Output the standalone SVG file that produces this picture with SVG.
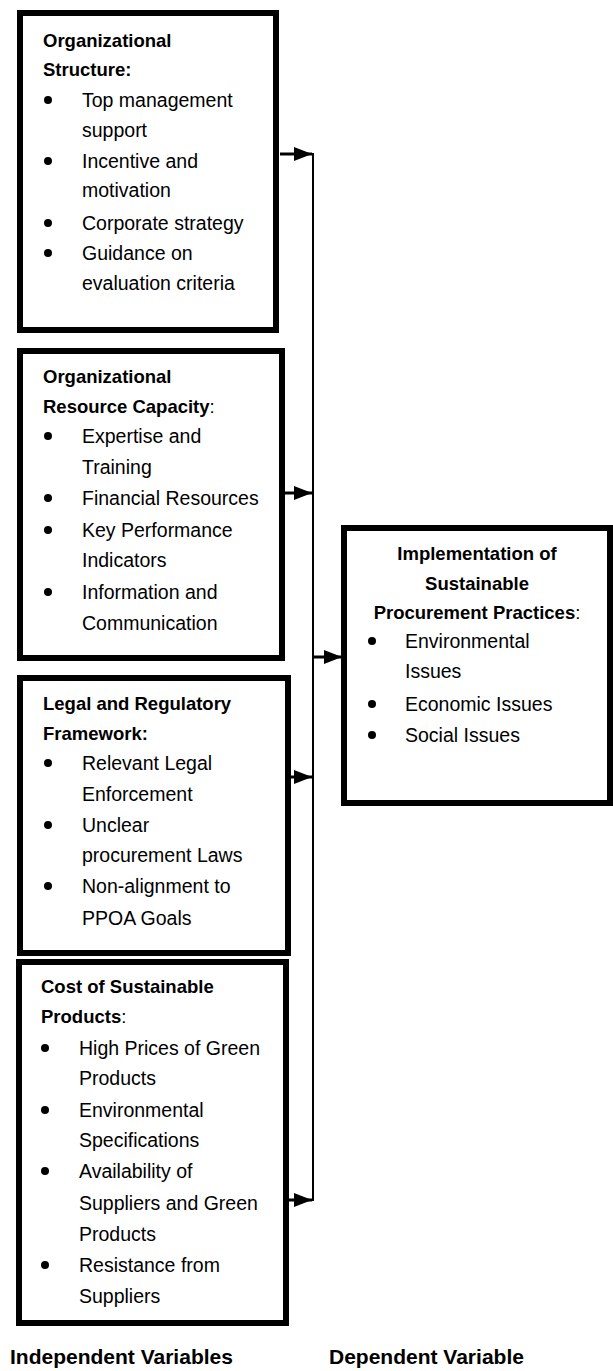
<svg xmlns="http://www.w3.org/2000/svg" width="613" height="1371" viewBox="0 0 613 1371">
  <style>
    text { font-family: "Liberation Sans", Arial, sans-serif; fill: #000; }
    .h { font-size: 18.5px; font-weight: bold; }
    .t { font-size: 19.5px; }
    .r { font-weight: normal; }
    .cap { font-size: 21px; font-weight: bold; }
    .box { fill: #fff; stroke: #000; stroke-width: 6; }
    .bul { fill: #000; }
    .wire { fill: none; stroke: #000; stroke-width: 3; }
    .bus { fill: none; stroke: #000; stroke-width: 2; }
  </style>
  <defs>
    <marker id="head" markerUnits="userSpaceOnUse" markerWidth="18" markerHeight="14" refX="18" refY="7" orient="auto">
      <path d="M0,0 L18,7 L0,14 Z" fill="#000"/>
    </marker>
  </defs>

  <!-- Independent variable: organizational structure -->
  <g id="org-structure">
    <rect class="box" x="20" y="13" width="256" height="317"/>
    <text class="h" x="43" y="47">Organizational</text>
    <text class="h" x="43" y="76">Structure:</text>
    <circle class="bul" cx="48" cy="100" r="4"/>
    <text class="t" x="82" y="107">Top management</text>
    <text class="t" x="82" y="137">support</text>
    <circle class="bul" cx="48" cy="161" r="4"/>
    <text class="t" x="82" y="168">Incentive and</text>
    <text class="t" x="82" y="197">motivation</text>
    <circle class="bul" cx="48" cy="223" r="4"/>
    <text class="t" x="82" y="230">Corporate strategy</text>
    <circle class="bul" cx="48" cy="253" r="4"/>
    <text class="t" x="82" y="260">Guidance on</text>
    <text class="t" x="82" y="290">evaluation criteria</text>
  </g>

  <!-- Independent variable: organizational resource capacity -->
  <g id="resource-capacity">
    <rect class="box" x="20" y="351" width="262" height="307"/>
    <text class="h" x="43" y="383">Organizational</text>
    <text class="h" x="43" y="413">Resource Capacity<tspan class="r">:</tspan></text>
    <circle class="bul" cx="48" cy="436" r="4"/>
    <text class="t" x="82" y="443">Expertise and</text>
    <text class="t" x="82" y="474">Training</text>
    <circle class="bul" cx="48" cy="498" r="4"/>
    <text class="t" x="82" y="505">Financial Resources</text>
    <circle class="bul" cx="48" cy="530" r="4"/>
    <text class="t" x="82" y="537">Key Performance</text>
    <text class="t" x="82" y="567">Indicators</text>
    <circle class="bul" cx="48" cy="592" r="4"/>
    <text class="t" x="82" y="599">Information and</text>
    <text class="t" x="82" y="630">Communication</text>
  </g>

  <!-- Independent variable: legal and regulatory framework -->
  <g id="legal-framework">
    <rect class="box" x="20" y="678" width="268" height="275"/>
    <text class="h" x="43" y="710">Legal and Regulatory</text>
    <text class="h" x="43" y="740">Framework:</text>
    <circle class="bul" cx="48" cy="763" r="4"/>
    <text class="t" x="82" y="770">Relevant Legal</text>
    <text class="t" x="82" y="801">Enforcement</text>
    <circle class="bul" cx="48" cy="825" r="4"/>
    <text class="t" x="82" y="832">Unclear</text>
    <text class="t" x="82" y="862">procurement Laws</text>
    <circle class="bul" cx="48" cy="886" r="4"/>
    <text class="t" x="82" y="893">Non-alignment to</text>
    <text class="t" x="82" y="925">PPOA Goals</text>
  </g>

  <!-- Independent variable: cost of sustainable products -->
  <g id="cost-products">
    <rect class="box" x="19" y="962" width="267" height="361"/>
    <text class="h" x="41" y="993">Cost of Sustainable</text>
    <text class="h" x="41" y="1023">Products<tspan class="r">:</tspan></text>
    <circle class="bul" cx="45" cy="1048" r="4"/>
    <text class="t" x="79" y="1055">High Prices of Green</text>
    <text class="t" x="79" y="1085">Products</text>
    <circle class="bul" cx="45" cy="1110" r="4"/>
    <text class="t" x="79" y="1117">Environmental</text>
    <text class="t" x="79" y="1147">Specifications</text>
    <circle class="bul" cx="45" cy="1171" r="4"/>
    <text class="t" x="79" y="1178">Availability of</text>
    <text class="t" x="79" y="1210">Suppliers and Green</text>
    <text class="t" x="79" y="1241">Products</text>
    <circle class="bul" cx="45" cy="1265" r="4"/>
    <text class="t" x="79" y="1272">Resistance from</text>
    <text class="t" x="79" y="1303">Suppliers</text>
  </g>

  <!-- Dependent variable -->
  <g id="implementation">
    <rect class="box" x="344" y="528" width="266" height="275"/>
    <text class="h" x="477" y="560" text-anchor="middle">Implementation of</text>
    <text class="h" x="477" y="590" text-anchor="middle">Sustainable</text>
    <text class="h" x="477" y="619" text-anchor="middle">Procurement Practices<tspan class="r">:</tspan></text>
    <circle class="bul" cx="372" cy="641" r="4"/>
    <text class="t" x="405" y="648">Environmental</text>
    <text class="t" x="405" y="678">Issues</text>
    <circle class="bul" cx="372" cy="704" r="4"/>
    <text class="t" x="405" y="711">Economic Issues</text>
    <circle class="bul" cx="372" cy="735" r="4"/>
    <text class="t" x="405" y="742">Social Issues</text>
  </g>

  <!-- Connectors: each factor feeds a shared bus into the dependent variable -->
  <g id="connectors">
    <line class="bus" x1="313" y1="153" x2="313" y2="1201"/>
    <line class="wire" x1="280" y1="154" x2="312" y2="154" marker-end="url(#head)"/>
    <line class="wire" x1="285" y1="493" x2="312" y2="493" marker-end="url(#head)"/>
    <line class="wire" x1="313" y1="657" x2="342" y2="657" marker-end="url(#head)"/>
    <line class="wire" x1="286" y1="777" x2="312" y2="777" marker-end="url(#head)"/>
    <line class="wire" x1="283" y1="1200" x2="312" y2="1200" marker-end="url(#head)"/>
  </g>

  <!-- Captions -->
  <g id="captions">
    <text class="cap" x="10" y="1364">Independent Variables</text>
    <text class="cap" x="329" y="1364">Dependent Variable</text>
  </g>
</svg>
